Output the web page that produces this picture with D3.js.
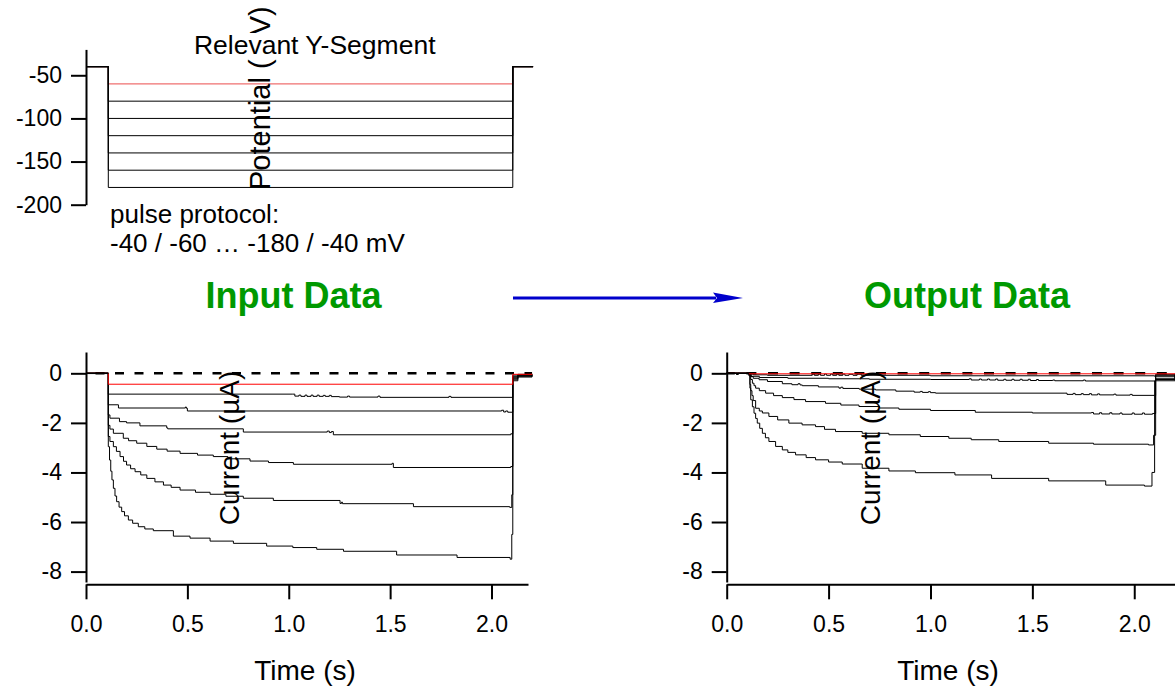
<!DOCTYPE html>
<html><head><meta charset="utf-8">
<script src="https://cdn.jsdelivr.net/npm/d3@7"></script>
<style>
html,body{margin:0;padding:0;background:#fff;}
svg{display:block;}
</style></head><body>
<svg id="chart" width="1175" height="686"></svg>
<script>
// ---------------- data ----------------
const protocolTimes = [0, 0.11, 2.105, 2.205];
const holdingPotential = -40;
const stepPotentials = [-60, -80, -100, -120, -140, -160, -180];
const potentialTicks = [-50, -100, -150, -200];
const currentTicks = [0, -2, -4, -6, -8];
const timeTicks = [0, 0.5, 1.0, 1.5, 2.0];

// Input currents [time s, current µA], one array per step potential
const inputTrace60 = [[0,0],[0.11,-0.44],[2.105,-0.04],[2.2,-0.02]];
const inputTrace80 = [[0,0],[0.11,-0.84],[1.02,-0.84],[1.03,-0.92],[1.05,-0.88],[1.06,-0.93],[1.08,-0.88],[1.09,-0.93],[1.11,-0.88],[1.12,-0.93],[1.14,-0.88],[1.15,-0.93],[1.17,-0.89],[1.18,-0.93],[1.2,-0.89],[1.21,-0.94],[1.25,-0.96],[1.29,-0.92],[1.3,-0.96],[1.44,-0.92],[1.45,-0.97],[1.79,-0.93],[1.8,-0.97],[2.105,-0.07],[2.13,-0.04],[2.2,-0.03]];
const inputTrace100 = [[0,0],[0.11,-1.27],[0.16,-1.4],[0.49,-1.36],[0.495,-1.41],[0.5,-1.52],[2.05,-1.49],[2.06,-1.56],[2.07,-1.52],[2.08,-1.57],[2.105,-0.12],[2.13,-0.06],[2.2,-0.04]];
const inputTrace120 = [[0,0],[0.11,-1.68],[0.118,-1.81],[0.165,-1.95],[0.2,-2.0],[0.266,-2.12],[0.398,-2.2],[0.403,-2.24],[0.776,-2.37],[1.19,-2.33],[1.2,-2.39],[1.21,-2.35],[1.22,-2.48],[2.095,-2.44],[2.105,-0.16],[2.13,-0.08],[2.2,-0.05]];
const inputTrace140 = [[0,0],[0.11,-2.1],[0.118,-2.25],[0.135,-2.42],[0.184,-2.62],[0.21,-2.72],[0.25,-2.82],[0.3,-2.95],[0.349,-3.06],[0.4,-3.14],[0.464,-3.23],[0.55,-3.3],[0.628,-3.36],[0.7,-3.45],[0.809,-3.54],[0.9,-3.6],[1.023,-3.67],[1.51,-3.63],[1.516,-3.8],[2.095,-3.76],[2.105,-0.2],[2.13,-0.1],[2.2,-0.06]];
const inputTrace160 = [[0,0],[0.11,-2.55],[0.118,-2.75],[0.135,-2.96],[0.15,-3.15],[0.168,-3.36],[0.185,-3.55],[0.2,-3.7],[0.22,-3.85],[0.242,-3.97],[0.27,-4.1],[0.3,-4.24],[0.34,-4.38],[0.382,-4.51],[0.42,-4.6],[0.464,-4.71],[0.54,-4.8],[0.612,-4.88],[0.69,-4.96],[0.776,-5.04],[0.924,-5.13],[1.253,-5.25],[1.26,-5.2],[1.265,-5.26],[1.615,-5.38],[2.09,-5.41],[2.1,-4.9],[2.105,-0.24],[2.13,-0.12],[2.2,-0.07]];
const inputTrace180 = [[0,0],[0.11,-2.96],[0.116,-3.5],[0.122,-3.95],[0.128,-4.3],[0.135,-4.64],[0.143,-4.95],[0.151,-5.18],[0.163,-5.4],[0.176,-5.58],[0.19,-5.75],[0.209,-5.92],[0.23,-6.05],[0.258,-6.19],[0.29,-6.28],[0.332,-6.35],[0.431,-6.57],[0.513,-6.65],[0.612,-6.77],[0.727,-6.86],[0.891,-6.97],[1.02,-7.03],[1.138,-7.1],[1.27,-7.18],[1.532,-7.33],[1.83,-7.43],[2.092,-7.5],[2.1,-6.5],[2.105,-0.3],[2.13,-0.15],[2.2,-0.09]];

// Output currents [time s, current µA]
const outputTrace60 = [[0,0],[0.11,-0.02],[2.2,-0.02]];
const outputTrace80 = [[0,0],[0.05,-0.04],[0.055,0],[0.11,-0.02],[0.13,-0.06],[0.2,-0.08],[0.42,-0.03],[0.43,-0.08],[0.45,-0.03],[0.46,-0.08],[0.48,-0.03],[0.49,-0.08],[0.51,-0.03],[0.52,-0.08],[0.54,-0.03],[0.55,-0.08],[0.57,-0.03],[0.58,-0.08],[0.6,-0.04],[0.62,-0.08],[0.64,-0.03],[0.66,-0.08],[1.0,-0.1],[2.1,-0.12],[2.105,-0.04],[2.2,-0.02]];
const outputTrace100 = [[0,0],[0.11,-0.04],[0.12,-0.12],[0.16,-0.17],[0.3,-0.2],[0.5,-0.22],[0.7,-0.24],[1.0,-0.25],[1.19,-0.22],[1.2,-0.27],[1.24,-0.23],[1.25,-0.27],[1.28,-0.23],[1.29,-0.27],[1.32,-0.23],[1.33,-0.28],[1.36,-0.24],[1.37,-0.28],[1.4,-0.24],[1.41,-0.28],[1.44,-0.24],[1.45,-0.28],[1.48,-0.24],[1.49,-0.29],[1.52,-0.25],[1.53,-0.29],[1.6,-0.27],[1.61,-0.3],[1.75,-0.27],[1.76,-0.31],[2.1,-0.32],[2.105,-0.08],[2.2,-0.04]];
const outputTrace120 = [[0,0],[0.11,-0.04],[0.118,-0.13],[0.13,-0.2],[0.159,-0.26],[0.2,-0.33],[0.273,-0.42],[0.32,-0.46],[0.35,-0.42],[0.36,-0.47],[0.371,-0.5],[0.45,-0.55],[0.551,-0.6],[0.56,-0.56],[0.57,-0.61],[0.65,-0.64],[0.73,-0.67],[0.83,-0.72],[0.91,-0.72],[0.92,-0.76],[0.95,-0.73],[0.96,-0.77],[0.99,-0.74],[1.0,-0.78],[1.025,-0.8],[1.66,-0.8],[1.67,-0.85],[1.7,-0.81],[1.71,-0.86],[1.74,-0.82],[1.75,-0.86],[1.78,-0.82],[1.79,-0.87],[1.82,-0.83],[1.83,-0.87],[1.9,-0.84],[1.91,-0.88],[1.98,-0.85],[1.99,-0.89],[2.1,-0.9],[2.105,-0.12],[2.2,-0.06]];
const outputTrace140 = [[0,0],[0.11,-0.05],[0.118,-0.25],[0.126,-0.4],[0.134,-0.5],[0.142,-0.6],[0.16,-0.7],[0.191,-0.8],[0.23,-0.9],[0.273,-0.98],[0.33,-1.06],[0.387,-1.14],[0.485,-1.21],[0.56,-1.28],[0.649,-1.34],[0.75,-1.4],[0.845,-1.45],[1.0,-1.5],[1.22,-1.57],[1.5,-1.6],[1.79,-1.58],[1.8,-1.64],[1.83,-1.59],[1.84,-1.64],[1.88,-1.59],[1.89,-1.64],[1.93,-1.6],[1.94,-1.65],[1.99,-1.6],[2.0,-1.65],[2.04,-1.6],[2.05,-1.65],[2.09,-1.62],[2.105,-0.2],[2.2,-0.08]];
const outputTrace160 = [[0,0],[0.11,-0.1],[0.114,-0.45],[0.118,-0.7],[0.124,-0.9],[0.13,-1.1],[0.142,-1.41],[0.16,-1.52],[0.175,-1.6],[0.207,-1.74],[0.25,-1.88],[0.305,-2.01],[0.37,-2.08],[0.436,-2.15],[0.48,-2.26],[0.534,-2.35],[0.665,-2.42],[0.796,-2.48],[0.95,-2.55],[1.09,-2.62],[1.2,-2.68],[1.335,-2.75],[1.58,-2.82],[1.8,-2.86],[2.07,-2.89],[2.095,-2.5],[2.105,-0.25],[2.2,-0.1]];
const outputTrace180 = [[0,0],[0.11,-0.1],[0.114,-0.6],[0.118,-1.07],[0.126,-1.35],[0.134,-1.61],[0.142,-1.82],[0.15,-2.01],[0.162,-2.22],[0.175,-2.42],[0.19,-2.6],[0.207,-2.75],[0.24,-2.95],[0.273,-3.09],[0.3,-3.19],[0.338,-3.29],[0.39,-3.4],[0.436,-3.49],[0.5,-3.58],[0.567,-3.66],[0.665,-3.83],[0.796,-3.94],[0.926,-4.01],[1.12,-4.1],[1.3,-4.24],[1.58,-4.34],[1.86,-4.51],[2.05,-4.55],[2.087,-4.0],[2.1,-0.3],[2.2,-0.12]];

const inputTraces = [inputTrace60, inputTrace80, inputTrace100, inputTrace120, inputTrace140, inputTrace160, inputTrace180];
const outputTraces = [outputTrace60, outputTrace80, outputTrace100, outputTrace120, outputTrace140, outputTrace160, outputTrace180];

// ---------------- drawing ----------------
const FONT = '"Liberation Sans", Arial, Helvetica, sans-serif';
const TICK_FONT = 23;
const svg = d3.select("#chart");

const xTop = d3.scaleLinear().domain([0, 2.18]).range([86, 528]);
const yTop = d3.scaleLinear().domain([-200, -20]).range([204.7, 49.4]);
const xIn = d3.scaleLinear().domain([0, 2.18]).range([86, 528]);
const xOut = d3.scaleLinear().domain([0, 2.2]).range([726.7, 1175]);
const yCur = d3.scaleLinear().domain([-8.42, 0.86]).range([582, 352]);
const xAxisY = 584.3;

function styleAxis(g, size) {
  g.attr("font-size", size).attr("font-family", FONT);
  g.selectAll("path.domain").attr("stroke", "#000").attr("stroke-width", 2);
  g.selectAll(".tick line").attr("stroke", "#000").attr("stroke-width", 2);
  g.selectAll(".tick text").attr("fill", "#000");
}

// ---- top protocol panel ----
const protoLine = d3.line().x(d => xTop(d[0])).y(d => yTop(d[1])).curve(d3.curveStepAfter);
stepPotentials.forEach((v, i) => {
  const pts = [[protocolTimes[0], holdingPotential], [protocolTimes[1], v], [protocolTimes[2], holdingPotential], [protocolTimes[3], holdingPotential]];
  svg.append("path").attr("d", protoLine(pts)).attr("fill", "none")
    .attr("stroke", i === 0 ? "#f07070" : "#000").attr("stroke-width", i === 0 ? 1.2 : 1);
});
svg.append("g").attr("transform", "translate(86,0)")
  .call(d3.axisLeft(yTop).tickValues(potentialTicks).tickSize(15).tickSizeOuter(0).tickPadding(9).tickFormat(d => String(d)))
  .call(g => styleAxis(g, TICK_FONT));

svg.append("text").attr("transform", "translate(270,190) rotate(-90)")
  .attr("font-family", FONT).attr("font-size", 29).attr("text-anchor", "start").text("Potential (mV)");
svg.append("rect").attr("x", 190).attr("y", 33).attr("width", 252).attr("height", 25).attr("fill", "#fff");
svg.append("text").attr("x", 314.7).attr("y", 54.3).attr("text-anchor", "middle")
  .attr("font-family", FONT).attr("font-size", 26.5).text("Relevant Y-Segment");
svg.append("text").attr("x", 110).attr("y", 223.3)
  .attr("font-family", FONT).attr("font-size", 26).text("pulse protocol:");
svg.append("text").attr("x", 110).attr("y", 252.3)
  .attr("font-family", FONT).attr("font-size", 26).text("-40 / -60 … -180 / -40 mV");

// ---- titles and arrow ----
svg.append("text").attr("x", 293.5).attr("y", 308).attr("text-anchor", "middle")
  .attr("font-family", FONT).attr("font-size", 36).attr("font-weight", "bold").attr("fill", "#009900").text("Input Data");
svg.append("text").attr("x", 967).attr("y", 308).attr("text-anchor", "middle")
  .attr("font-family", FONT).attr("font-size", 36).attr("font-weight", "bold").attr("fill", "#009900").text("Output Data");
svg.append("line").attr("x1", 513).attr("x2", 716).attr("y1", 298).attr("y2", 298)
  .attr("stroke", "#0000cc").attr("stroke-width", 3);
svg.append("path").attr("d", "M713,292.5 L743,298 L713,303 L717,298 Z").attr("fill", "#0000cc");

// ---- current panels ----
function drawPanel(xs, traces, dash, dashOffset, tEnd, axisX, labelX, titleX) {
  const line = d3.line().x(d => xs(d[0])).y(d => yCur(d[1])).curve(d3.curveStepAfter);
  // zero reference line
  svg.append("path").attr("d", d3.line().x(d => xs(d[0])).y(d => yCur(d[1]))([[0, 0], [tEnd, 0]]))
    .attr("fill", "none").attr("stroke", "#000").attr("stroke-width", 2.5)
    .attr("stroke-dasharray", dash).attr("stroke-dashoffset", dashOffset);
  traces.slice(1).forEach(tr => {
    svg.append("path").attr("d", line(tr)).attr("fill", "none").attr("stroke", "#000").attr("stroke-width", 1);
  });
  svg.append("path").attr("d", line(traces[0])).attr("fill", "none").attr("stroke", "#ff0000").attr("stroke-width", 1);
  // baseline segment before the pulse, drawn in black
  svg.append("path").attr("d", line(traces[1].filter(d => d[0] <= 0.11).map((d, i, a) => i === a.length - 1 ? [d[0], 0] : d)))
    .attr("fill", "none").attr("stroke", "#000").attr("stroke-width", 1.5);

  svg.append("g").attr("transform", `translate(${axisX},0)`)
    .call(d3.axisLeft(yCur).tickValues(currentTicks).tickSize(15).tickSizeOuter(0).tickPadding(9).tickFormat(d => String(d)))
    .call(g => styleAxis(g, TICK_FONT));
  svg.append("g").attr("transform", `translate(0,${xAxisY})`)
    .call(d3.axisBottom(xs).tickValues(timeTicks).tickSize(15).tickSizeOuter(0).tickPadding(16).tickFormat(d3.format(".1f")))
    .call(g => styleAxis(g, TICK_FONT));

  svg.append("text").attr("transform", `translate(${labelX},448) rotate(-90)`).attr("text-anchor", "middle")
    .attr("font-family", FONT).attr("font-size", 28).text("Current (µA)");
  svg.append("text").attr("x", titleX).attr("y", 680).attr("text-anchor", "middle")
    .attr("font-family", FONT).attr("font-size", 28).text("Time (s)");
}

drawPanel(xIn, inputTraces, "9,10.5", 10, 2.2, 86, 238.5, 305);
drawPanel(xOut, outputTraces, "10,11.6", 1.9, 2.2, 726.7, 880, 948);
</script>
</body></html>
